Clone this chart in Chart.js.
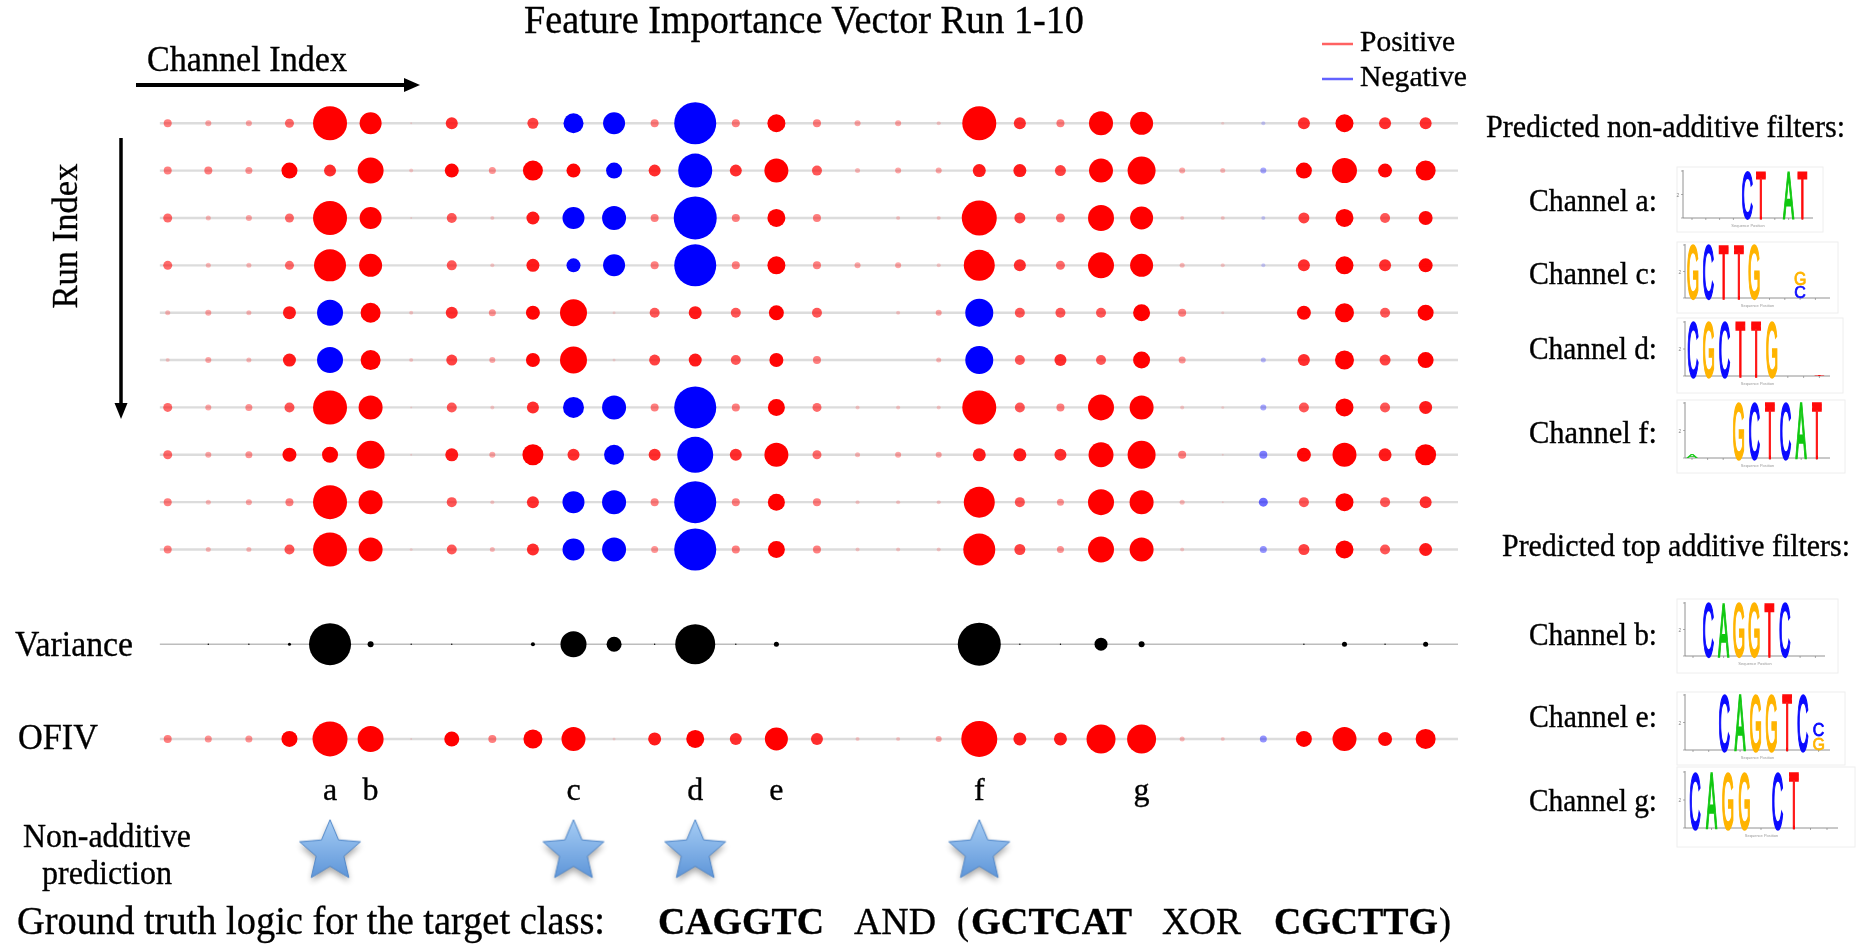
<!DOCTYPE html>
<html>
<head>
<meta charset="utf-8">
<title>Feature Importance Vector Run 1-10</title>
<script src="https://cdn.jsdelivr.net/npm/chart.js@4.4.1/dist/chart.umd.min.js"></script>
<style>
  html, body { margin: 0; padding: 0; background: #fff; overflow: hidden; }
  #stage { position: relative; width: 1857px; height: 944px; }
  #chart { position: absolute; left: 0; top: 0; }
  #overlay { position: absolute; left: 0; top: 0; pointer-events: none; }
  #overlay text.serif { font-family: 'Liberation Serif', 'Times New Roman', serif; fill: #000; stroke: #000; stroke-width: 0.35; }
  #overlay text.logo { font-family: 'Liberation Sans', Arial, sans-serif; }
</style>
</head>
<body>
<div id="stage">
  <canvas id="chart" width="1857" height="944"></canvas>
  <svg id="overlay" width="1857" height="944" xmlns="http://www.w3.org/2000/svg"></svg>
</div>
<script>
// ---- Channels (x categories) ----
const channelIndex = Array.from({ length: 32 }, (_, i) => i);
const channelLetters = ['', '', '', '', 'a', 'b', '', '', '', '', 'c', '', '', 'd', '', 'e',
                        '', '', '', '', 'f', '', '', '', 'g', '', '', '', '', '', '', ''];

// ---- Feature importance per run (signed; negative = blue) ----
const run1  = [4, 3, 3, 4.5, 17, 11, 1, 6, 0, 5.5, -10, -11, 4, -21, 4, 9, 4, 3, 3, 2, 17, 6, 4, 12, 11.5, 0, 1.5, -2, 6, 9, 6, 6];
const run2  = [4, 4, 3.5, 8, 6, 13, 2, 7, 3.5, 10, 7, -8, 6, -17, 6, 12, 5, 2.5, 3, 3, 6.5, 6.5, 5.5, 12, 14, 3, 2.5, -3, 8, 12.5, 7, 10];
const run3  = [4.5, 2.5, 3, 4.5, 17, 11, 1, 5, 2, 6.5, -11, -12, 4, -21.5, 4, 9, 4, 0, 2, 2, 17.5, 5.5, 4.5, 13, 11.5, 2, 2, -2, 5.5, 9, 5, 7];
const run4  = [4.5, 2.5, 2.5, 4.5, 16, 11.5, 0, 5, 2, 6.5, -7, -11, 4, -21, 4, 9, 4, 3, 3, 2, 15.5, 6, 4.5, 13, 11.5, 2.5, 2, -2, 6, 9, 6, 7];
const run5  = [2.5, 3, 2.5, 6.5, -13, 10, 2, 6, 3.5, 7, 13.5, 1.5, 5, 6.5, 5, 7.5, 5, 0, 2, 3, -14, 5, 5, 5, 8.5, 4, 1.5, 0, 7, 9.5, 5, 8];
const run6  = [2, 3, 2.5, 6.5, -13, 10, 2, 5.5, 3, 7, 13.5, 1.5, 5.5, 6.5, 5, 7, 4, 0, 0, 2.5, -14, 5, 6, 5, 8.5, 3.5, 0, -2.5, 6, 9.5, 5.5, 8];
const run7  = [4.5, 3, 3.5, 5, 17, 12, 1, 5, 2, 6, -10.5, -12, 4, -21, 4, 8.5, 4.5, 2, 2, 2, 17, 5, 4, 13, 12, 2, 1.5, -3, 5, 9, 5, 6.5];
const run8  = [4.5, 3, 3.5, 7, 8, 14, 1, 6.5, 3, 10.5, 6, -10, 6, -18, 6, 12, 4.5, 2.5, 3, 3, 6.5, 6.5, 6, 12.5, 14, 4, 1, -4, 7, 12, 6.5, 10.5];
const run9  = [4, 2.5, 3, 4, 17, 12, 0, 5, 2, 6, -11, -12, 4, -21, 4, 8.5, 4, 2, 2, 2, 15.5, 5, 3.5, 13, 12, 2.5, 1, -4.5, 5, 9, 5, 6];
const run10 = [4, 2.5, 2.5, 5, 17, 12, 1.5, 5, 2.5, 6, -11, -12, 3.5, -21, 4, 8.5, 4, 2, 2, 2, 16, 5.5, 3.5, 13, 12, 2, 0, -3.5, 5.5, 9, 5, 6.5];

// ---- Summary rows ----
const varianceRow = [0, 0.7, 0.7, 1.5, 21, 3, 0.7, 0.7, 0, 2, 13, 7.5, 0.7, 20, 0.7, 2.5, 0, 0, 0, 0, 21.5, 0.7, 0.7, 6.5, 3, 0, 0, 0, 0.7, 2.5, 0.7, 2.5];
const ofivRow     = [4, 3.5, 3.5, 8, 17.5, 13, 1, 7.5, 4, 9.5, 12, 1.5, 6.5, 9, 6, 11.5, 6, 2, 2, 3, 18, 6.5, 6.5, 14.5, 14.5, 2.5, 2, -3.5, 8, 12, 7, 10];

// ---- Channels predicted as non-additive (marked with a star) ----
const starChannels = [4, 10, 13, 20];

const runs = [run1, run2, run3, run4, run5, run6, run7, run8, run9, run10];

// Row placement on the (reversed) y scale
const VAR_Y = 12, OFIV_Y = 14, LETTER_Y = 15.29, STAR_Y = 16.38;
const X_MIN = -0.2, X_MAX = 31.8, Y_MIN = 0, Y_MAX = 17.5;
const RADIUS_SCALE = 1;

function alphaFor(r) {
  return Math.max(0.12, Math.min(1, 0.18 + (r - 2) * 0.16));
}
function signedColor(v) {
  const a = alphaFor(Math.abs(v) * RADIUS_SCALE);
  return v < 0 ? `rgba(0,0,255,${a})` : `rgba(255,0,0,${a})`;
}

function bubbleSet(values, y, colorFn) {
  return {
    type: 'bubble',
    data: values.map((v, c) => ({ x: channelIndex[c], y, r: Math.abs(v) * RADIUS_SCALE, v }))
                .filter(p => p.r > 0),
    backgroundColor: ctx => colorFn(ctx.raw ? ctx.raw.v : 0),
    borderWidth: 0,
    order: 1
  };
}

function makeStar() {
  const c = document.createElement('canvas');
  c.width = 84; c.height = 84;
  const g = c.getContext('2d');
  const cx = 42, cy = 42, R = 32, r = 14.5;
  g.beginPath();
  for (let k = 0; k < 10; k++) {
    const ang = -Math.PI / 2 + k * Math.PI / 5;
    const rad = k % 2 ? r : R;
    g.lineTo(cx + rad * Math.cos(ang), cy + rad * Math.sin(ang));
  }
  g.closePath();
  const grad = g.createLinearGradient(0, cy - R, 0, cy + R);
  grad.addColorStop(0, '#a6cdf5');
  grad.addColorStop(1, '#5790d6');
  g.save();
  g.shadowColor = 'rgba(0,0,0,0.35)';
  g.shadowBlur = 6;
  g.shadowOffsetY = 4;
  g.fillStyle = grad;
  g.fill();
  g.restore();
  g.strokeStyle = '#4f86c8';
  g.lineWidth = 1;
  g.stroke();
  return c;
}

const datasets = [];
// light guide line under each row
[...runs.map((_, i) => i + 1), VAR_Y, OFIV_Y].forEach(y => {
  datasets.push({
    type: 'line',
    data: [{ x: X_MIN, y }, { x: X_MAX, y }],
    borderColor: y === VAR_Y ? '#bdbdbd' : '#dcdcdc',
    borderWidth: y === VAR_Y ? 1.6 : 2.4,
    pointRadius: 0,
    order: 10
  });
});
runs.forEach((vals, i) => datasets.push(bubbleSet(vals, i + 1, signedColor)));
datasets.push(bubbleSet(varianceRow, VAR_Y, () => '#000'));
datasets.push(bubbleSet(ofivRow, OFIV_Y, signedColor));
datasets.push({
  type: 'scatter',
  data: starChannels.map(c => ({ x: c, y: STAR_Y })),
  pointStyle: makeStar(),
  clip: false,
  order: 0
});

const chart = new Chart(document.getElementById('chart'), {
  type: 'bubble',
  data: { datasets },
  options: {
    responsive: false,
    animation: false,
    events: [],
    layout: { padding: { left: 159.6, right: 398.9, top: 75.9, bottom: 39.3 } },
    scales: {
      x: { type: 'linear', min: X_MIN, max: X_MAX, display: false },
      y: { type: 'linear', min: Y_MIN, max: Y_MAX, reverse: true, display: false }
    },
    plugins: { legend: { display: false }, tooltip: { enabled: false } }
  }
});

// ---- Annotation layer ----
const svg = document.getElementById('overlay');
const NS = 'http://www.w3.org/2000/svg';
function el(tag, attrs, parent = svg) {
  const e = document.createElementNS(NS, tag);
  for (const k in attrs) e.setAttribute(k, attrs[k]);
  parent.appendChild(e);
  return e;
}
function label(str, x, y, size, o = {}) {
  const a = { x, y, 'font-size': size, class: 'serif' };
  if (o.anchor) a['text-anchor'] = o.anchor;
  if (o.width) { a.textLength = o.width; a.lengthAdjust = 'spacingAndGlyphs'; }
  if (o.bold) a['font-weight'] = 'bold';
  if (o.transform) a.transform = o.transform;
  const t = el('text', a);
  t.textContent = str;
  return t;
}

const xs = chart.scales.x, ys = chart.scales.y;

// title, axis captions, legend
label('Feature Importance Vector Run 1-10', 524, 33, 39, { width: 560 });
label('Channel Index', 147, 71, 35, { width: 200 });
el('line', { x1: 136, y1: 85, x2: 406, y2: 85, stroke: '#000', 'stroke-width': 4 });
el('polygon', { points: '404,78 420,85 404,92', fill: '#000' });
label('Run Index', 0, 0, 36, { anchor: 'middle', width: 145, transform: 'translate(77,236) rotate(-90)' });
el('line', { x1: 121, y1: 138, x2: 121, y2: 405, stroke: '#000', 'stroke-width': 3.5 });
el('polygon', { points: '114.5,403 121,419 127.5,403', fill: '#000' });

el('line', { x1: 1322, y1: 44, x2: 1353, y2: 44, stroke: '#ff6262', 'stroke-width': 2.5 });
el('line', { x1: 1322, y1: 79, x2: 1353, y2: 79, stroke: '#6262ff', 'stroke-width': 2.5 });
label('Positive', 1360, 51, 30, { width: 95 });
label('Negative', 1360, 86, 30, { width: 107 });

// row captions and channel letters, placed from the chart scales
label('Variance', 15, ys.getPixelForValue(VAR_Y) + 12, 36, { width: 118 });
label('OFIV', 18, ys.getPixelForValue(OFIV_Y) + 10, 36, { width: 80 });
channelLetters.forEach((s, c) => {
  if (s) label(s, xs.getPixelForValue(channelIndex[c]), ys.getPixelForValue(LETTER_Y), 32, { anchor: 'middle' });
});
label('Non-additive', 107, 847, 34, { anchor: 'middle', width: 168 });
label('prediction', 107, 884, 34, { anchor: 'middle', width: 130 });

// ground truth line
label('Ground truth logic for the target class:', 17, 934, 39, { width: 588 });
label('CAGGTC', 658, 934, 38, { width: 166, bold: true });
label('AND', 854, 934, 38, { width: 82 });
label('(', 957, 934, 38, { width: 12 });
label('GCTCAT', 971, 934, 38, { width: 161, bold: true });
label('XOR', 1162, 934, 38, { width: 79 });
label('CGCTTG', 1274, 934, 38, { width: 164, bold: true });
label(')', 1439, 934, 38, { width: 12 });

// right panel
label('Predicted non-additive filters:', 1486, 137, 32, { width: 359 });
label('Predicted top additive filters:', 1502, 556, 32, { width: 348 });

const baseColor = { A: '#10c810', C: '#0a0aff', G: '#ffb400', T: '#ff0a0a' };
const logos = [
  { name: 'Channel a:', base: 211, box: [1677, 167, 1823, 232], ax: [1683, 171, 1813, 218], p1: 1692, step: 13.8,
    letters: [[5, 'C'], [6, 'T'], [8, 'A'], [9, 'T']] },
  { name: 'Channel c:', base: 284, box: [1677, 242, 1838, 313], ax: [1685, 245, 1830, 298], p1: 1693, step: 15.3,
    letters: [[1, 'G'], [2, 'C'], [3, 'T'], [4, 'T'], [5, 'G'], [8, 'C', 0, 0.21], [8, 'G', 0.25, 0.5]] },
  { name: 'Channel d:', base: 359, box: [1677, 318, 1843, 393], ax: [1685, 322, 1830, 376], p1: 1693, step: 15.8,
    letters: [[1, 'C'], [2, 'G'], [3, 'C'], [4, 'T'], [5, 'T'], [6, 'G'], [9, 'T', 0, 0.03]] },
  { name: 'Channel f:', base: 443, box: [1677, 400, 1845, 473], ax: [1685, 403, 1830, 458], p1: 1692, step: 15.6,
    letters: [[1, 'A', 0, 0.07], [4, 'G'], [5, 'C'], [6, 'T'], [7, 'C'], [8, 'A'], [9, 'T']] },
  { name: 'Channel b:', base: 645, box: [1677, 599, 1838, 673], ax: [1685, 603, 1825, 656], p1: 1693, step: 15.3,
    letters: [[2, 'C'], [3, 'A'], [4, 'G'], [5, 'G'], [6, 'T'], [7, 'C']] },
  { name: 'Channel e:', base: 727, box: [1677, 692, 1845, 765], ax: [1685, 695, 1830, 750], p1: 1693, step: 15.7,
    letters: [[3, 'C'], [4, 'A'], [5, 'G'], [6, 'G'], [7, 'T'], [8, 'C'], [9, 'G', 0, 0.22], [9, 'C', 0.26, 0.5]] },
  { name: 'Channel g:', base: 811, box: [1677, 767, 1855, 847], ax: [1685, 772, 1838, 828], p1: 1695, step: 16.5,
    letters: [[1, 'C'], [2, 'A'], [3, 'G'], [4, 'G'], [6, 'C'], [7, 'T']] }
];

logos.forEach(lg => {
  label(lg.name, 1657, lg.base, 31, { anchor: 'end', width: 128 });
  const [bx0, by0, bx1, by1] = lg.box;
  el('rect', { x: bx0, y: by0, width: bx1 - bx0, height: by1 - by0, fill: '#fff', stroke: '#eeeeee', 'stroke-width': 1 });
  const [ax0, top, ax1, bottom] = lg.ax;
  el('line', { x1: ax0, y1: top - 1, x2: ax0, y2: bottom, stroke: '#777', 'stroke-width': 0.8 });
  el('line', { x1: ax0, y1: bottom, x2: ax1, y2: bottom, stroke: '#777', 'stroke-width': 0.8 });
  [top, (top + bottom) / 2, bottom].forEach(yy =>
    el('line', { x1: ax0 - 2, y1: yy, x2: ax0, y2: yy, stroke: '#888', 'stroke-width': 0.7 }));
  for (let p = 1; p <= 9; p++) {
    const tx = lg.p1 + (p - 1) * lg.step;
    el('line', { x1: tx, y1: bottom, x2: tx, y2: bottom + 2, stroke: '#888', 'stroke-width': 0.7 });
  }
  const t2 = el('text', { x: ax0 - 5, y: (top + bottom) / 2 + 2, 'font-size': 5, fill: '#888', class: 'logo', 'text-anchor': 'middle' });
  t2.textContent = '2';
  const xl = el('text', { x: (ax0 + ax1) / 2, y: bottom + 9, 'font-size': 4, fill: '#999', class: 'logo', 'text-anchor': 'middle' });
  xl.textContent = 'Sequence Position';
  const h = bottom - top;
  lg.letters.forEach(([p, ch, f0 = 0, f1 = 1]) => {
    const cx = lg.p1 + (p - 1) * lg.step;
    const yb = bottom - f0 * h, yt = bottom - f1 * h;
    const sy = (yb - yt) / 14.3;
    const t = el('text', {
      x: 0, y: 0, 'font-size': 20, class: 'logo', 'text-anchor': 'middle',
      fill: baseColor[ch], stroke: baseColor[ch], 'stroke-width': 0.9,
      transform: `translate(${cx},${yb}) scale(0.8,${sy})`
    });
    t.textContent = ch;
  });
});
</script>
</body>
</html>
